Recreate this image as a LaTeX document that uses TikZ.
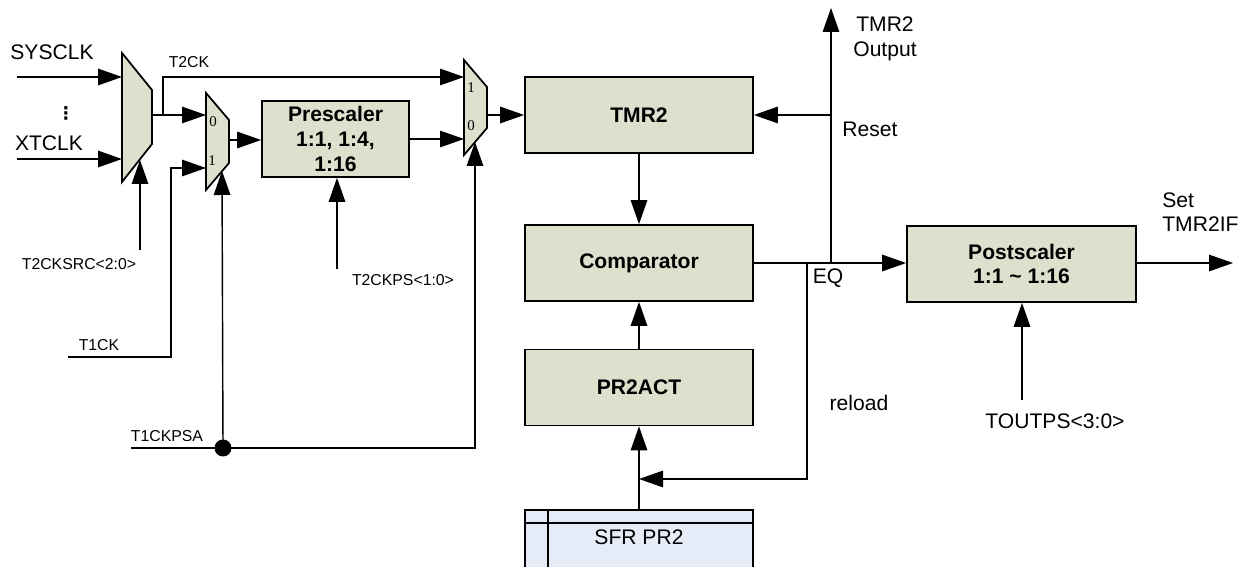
\documentclass[tikz,border=0pt]{standalone}
\usepackage{fontspec}
\setmainfont{Liberation Sans}
\newfontfamily\pinfont{Liberation Serif}
\newfontfamily\symfont{DejaVu Sans}
\usepackage{xcolor}
\usetikzlibrary{positioning,arrows.meta}
\definecolor{blkfill}{RGB}{221,224,204}
\definecolor{sfrfill}{RGB}{229,236,247}

\begin{document}
\begin{tikzpicture}[x=0.02cm, y=-0.02cm,
  blk/.style={draw, line width=1pt, fill=blkfill, align=center, inner sep=0pt,
              font=\bfseries\fontsize{12}{14}\selectfont,
              minimum width=#1, minimum height=1.52cm},
  blk/.default=4.56cm,
  mux/.style={draw, line width=1pt, fill=blkfill},
  sig/.style={line width=0.8pt},
  lbl/.style={font=\fontsize{12}{14}\selectfont, inner sep=0pt},
  slbl/.style={font=\fontsize{9}{10}\selectfont, inner sep=0pt},
  pin/.style={font=\pinfont\fontsize{8.5}{9}\selectfont, inner sep=0pt},
  >={Triangle[length=4.8mm, width=3.3mm]}]
  \useasboundingbox (0,0) rectangle (1247,567);
  % main blocks
  \node[blk]        (tmr)   at (639,115)   {TMR2};
  \node[blk]        (cmp)   at (639,263)   {Comparator};
  \node[blk]        (pract) at (639,387.5) {PR2ACT};
  \node[blk=2.94cm] (pre)   at (335.5,139) {Prescaler\\1:1, 1:4,\\1:16};
  \node[blk=4.58cm] (post)  at (1021.5,264) {Postscaler\\1:1 \textasciitilde{} 1:16};
  % SFR register (runs off the bottom)
  \node[draw, line width=1pt, fill=sfrfill, inner sep=0pt, anchor=north,
        minimum width=4.56cm, minimum height=1.4cm] (sfr) at (639,509) {};
  \draw[sig] (sfr.north west) ++(0,14) -- ++(228,0);
  \draw[sig] (sfr.north west) ++(24,0) -- ++(0,70);
  \node[lbl] (sfrtxt) at (639,537) {SFR PR2};
  % multiplexers
  \draw[mux] (122,53) -- (152,90) -- (152,144) -- (122,182) -- cycle;
  \draw[mux] (206,93) -- (229,120) -- (229,163) -- (206,190) -- cycle;
  \draw[mux] (464,60) -- (487,87) -- (487,128) -- (464,155) -- cycle;
  \coordinate (m1a) at (122,77);  \coordinate (m1b) at (122,159);
  \coordinate (m1o) at (152,115); \coordinate (m1s) at (140,160);
  \coordinate (m2a) at (206,115); \coordinate (m2b) at (206,168);
  \coordinate (m2o) at (229,140); \coordinate (m2s) at (222,171);
  \coordinate (m3a) at (464,77);  \coordinate (m3b) at (464,139);
  \coordinate (m3o) at (487,115); \coordinate (m3s) at (475,142);
  \node[pin] (m2zero) at (213,122) {0};
  \node[pin] (m2one)  at (212,161) {1};
  \node[pin] (m3one)  at (471,88)  {1};
  \node[pin] (m3zero) at (471,126) {0};
  % clock inputs
  \coordinate (sys) at (17,77);
  \coordinate (xt)  at (17,159);
  \node[lbl] (syslbl) at (52,52)  {SYSCLK};
  \node[lbl] (xtlbl)  at (49,143) {XTCLK};
  \node[font=\symfont\bfseries\fontsize{10}{10}\selectfont, inner sep=0pt] (dots) at (66,113) {⋮};
  \draw[sig,->] (sys) -- (m1a);
  \draw[sig,->] (xt) -- (m1b);
  % select inputs
  \coordinate (src) at (140,250);
  \node[slbl] (srclbl) at (79,264) {T2CKSRC<2:0>};
  \draw[sig,->] (src) -- (m1s);
  \coordinate (t1ck) at (68,357);
  \node[slbl] (t1cklbl) at (99,345) {T1CK};
  \draw[sig,->] (t1ck) -| (171,168) -- (m2b);
  \coordinate (psa) at (131,448);
  \node[slbl] (psalbl) at (167,436) {T1CKPSA};
  \coordinate (psadot) at (223,448);
  \draw[sig] (psa) -- (psadot);
  \draw[sig,->] (psadot) -- (m2s);
  \draw[sig,->] (psadot) -| (m3s);
  \fill (psadot) circle[radius=0.17cm];
  \coordinate (tps) at (337,269);
  \node[slbl] (tpslbl) at (403,280) {T2CKPS<1:0>};
  \draw[sig,->] (tps) -- (tps |- pre.south);
  % clock path
  \node[slbl] (t2cklbl) at (189,62) {T2CK};
  \draw[sig,->] (m1o) -- (m2a);
  \draw[sig,->] (163,115) -- (163,77) -- (m3a);
  \draw[sig,->] (m2o) -- (m2o -| pre.west);
  \draw[sig,->] (pre.east |- m3b) -- (m3b);
  \draw[sig,->] (m3o) -- (m3o -| tmr.west);
  % compare path
  \draw[sig,->] (tmr) -- (cmp);
  \draw[sig,->] (pract) -- (cmp);
  \draw[sig,->] (sfr) -- (pract);
  \coordinate (outtop) at (831,8);
  \draw[sig,->] (cmp.east) -- (post.west |- cmp.east);
  \draw[sig,->] (831,263) -- (outtop);
  \draw[sig,->] (831,115) -- (tmr.east);
  \draw[sig,->] (807,263) -- (807,479) -- (639,479);
  \node[lbl, align=center] (outlbl) at (885,39) {TMR2\\Output};
  \node[lbl] (rstlbl) at (870,129) {Reset};
  \node[lbl] (eqlbl) at (828,278) {EQ};
  \node[lbl] (rldlbl) at (859,403) {reload};
  % postscaler
  \coordinate (flag) at (1233,263);
  \draw[sig,->] (post.east |- flag) -- (flag);
  \node[lbl, align=left, anchor=west] (flaglbl) at (1162,212) {Set\\TMR2IF};
  \coordinate (toutps) at (1022,400);
  \draw[sig,->] (toutps) -- (toutps |- post.south);
  \node[lbl] (toutlbl) at (1055,421) {TOUTPS<3:0>};
\end{tikzpicture}
\end{document}
